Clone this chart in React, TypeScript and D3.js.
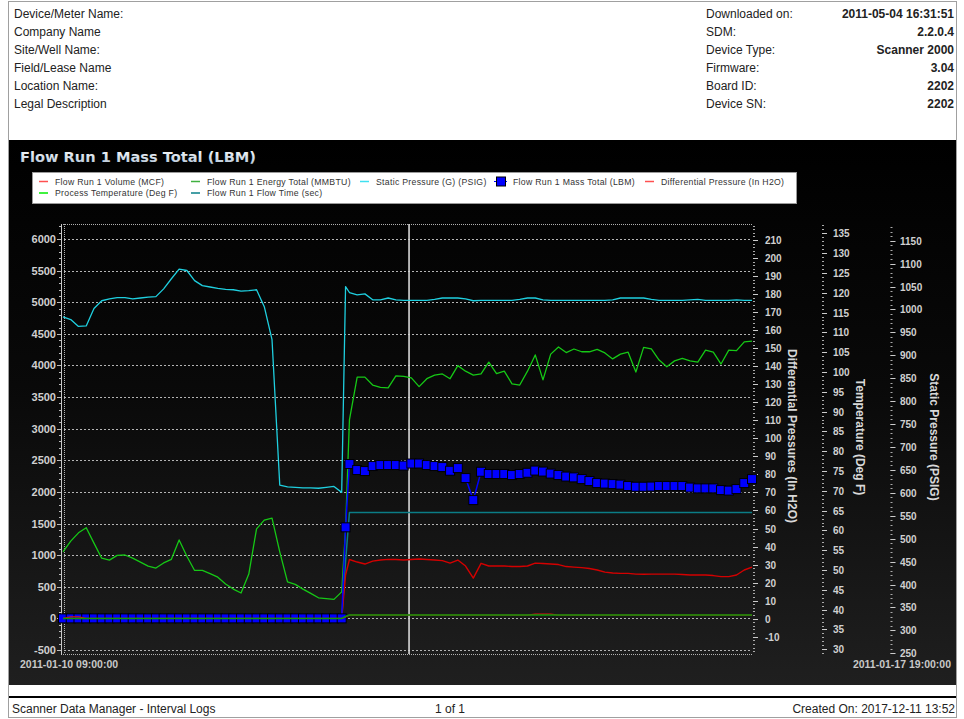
import React, { useEffect, useRef } from 'react';
import * as d3 from 'd3';

// hours after 2011-01-10 09:00 (two-hourly log, plus the hour of the flow start)
const hours = [...d3.range(0, 73, 2), 73, ...d3.range(74, 179, 2)];

const staticPressure = [
  984, 978, 963, 964, 1002, 1019, 1023, 1026, 1026, 1023,
  1025, 1027, 1028, 1045, 1067, 1088, 1085, 1063, 1052, 1049,
  1046, 1044, 1043, 1040, 1041, 1043, 1006, 934, 617, 613,
  612, 611, 611, 610, 612, 614, 601,
  1050,
  1037, 1032, 1034, 1021, 1021, 1025, 1021, 1020, 1020, 1020,
  1020, 1022, 1025, 1025, 1025, 1023, 1019, 1020, 1020, 1020,
  1020, 1020, 1022, 1025, 1025, 1021, 1020, 1020, 1020, 1020,
  1020, 1020, 1020, 1020, 1021, 1025, 1025, 1025, 1025, 1022,
  1020, 1020, 1020, 1020, 1021, 1022, 1020, 1020, 1020, 1020,
  1021, 1020, 1020,
];

const temperature = [
  54.6, 57.3, 59.4, 60.7, 56.8, 53.0, 52.5, 53.7, 53.8, 53.0,
  52.0, 51.0, 50.5, 51.8, 52.7, 57.6, 53.5, 49.9, 49.9, 49.1,
  48.2, 46.5, 45.2, 44.2, 49.0, 60.4, 62.6, 63.1, 54.6, 47.0,
  46.4, 45.2, 44.1, 43.0, 42.8, 42.6, 44.5,
  60.6,
  87.9, 98.7, 98.7, 96.7, 96.1, 96.0, 99.0, 98.9, 98.5, 96.3,
  98.3, 99.2, 99.5, 98.3, 101.6, 100.2, 99.2, 99.5, 102.5, 99.6,
  100.2, 97.0, 96.7, 100.2, 104.3, 98.0, 104.5, 106.3, 104.9, 105.8,
  105.1, 105.1, 105.7, 104.8, 103.3, 104.5, 105.0, 100.0, 106.2, 105.8,
  103.0, 101.3, 102.8, 103.4, 102.8, 102.5, 105.5, 105.0, 102.0, 105.5,
  105.4, 107.6, 107.8,
];

const massTotal = [
  0, 0, 0, 0, 0, 0, 0, 0, 0, 0,
  0, 0, 0, 0, 0, 0, 0, 0, 0, 0,
  0, 0, 0, 0, 0, 0, 0, 0, 0, 0,
  0, 0, 0, 0, 0, 0, 0,
  1440,
  2441, 2346, 2330, 2409, 2425, 2425, 2425, 2417, 2449, 2449,
  2425, 2409, 2393, 2335, 2377, 2219, 1871, 2319, 2283, 2283,
  2283, 2267, 2283, 2303, 2338, 2322, 2290, 2267, 2243, 2230,
  2203, 2172, 2140, 2132, 2124, 2116, 2093, 2082, 2082, 2085,
  2093, 2093, 2093, 2093, 2069, 2056, 2056, 2056, 2029, 2021,
  2045, 2140, 2203,
];

const diffPressure = [
  0, 0, 0, 0, 0, 0, 0, 0, 0, 0,
  0, 0, 0, 0, 0, 0, 0, 0, 0, 0,
  0, 0, 0, 0, 0, 0, 0, 0, 0, 0,
  0, 0, 0, 0, 0, 0, 0,
  24.2,
  32.8, 31.4, 30.3, 31.9, 32.5, 32.9, 32.8, 32.5, 32.8, 33.1,
  32.8, 32.5, 32.2, 30.8, 32.5, 29.2, 22.5, 30.7, 29.2, 29.2,
  29.2, 28.9, 28.9, 29.2, 30.8, 30.6, 30.3, 30.0, 28.9, 28.6,
  28.3, 27.8, 27.0, 25.8, 25.3, 25.1, 25.1, 24.7, 24.6, 24.7,
  24.7, 24.7, 24.7, 24.5, 24.2, 24.2, 24.2, 23.9, 23.3, 23.3,
  24.2, 27.0, 28.6,
];

const flowTime = [
  0, 0, 0, 0, 0, 0, 0, 0, 0, 0,
  0, 0, 0, 0, 0, 0, 0, 0, 0, 0,
  0, 0, 0, 0, 0, 0, 0, 0, 0, 0,
  0, 0, 0, 0, 0, 0, 0,
  900,
  1675, 1675, 1675, 1675, 1675, 1675, 1675, 1675, 1675, 1675,
  1675, 1675, 1675, 1675, 1675, 1675, 1675, 1675, 1675, 1675,
  1675, 1675, 1675, 1675, 1675, 1675, 1675, 1675, 1675, 1675,
  1675, 1675, 1675, 1675, 1675, 1675, 1675, 1675, 1675, 1675,
  1675, 1675, 1675, 1675, 1675, 1675, 1675, 1675, 1675, 1675,
  1675, 1675, 1675,
];

const energyTotal = [
  0, 0, 0, 0, 0, 0, 0, 0, 0, 0,
  0, 0, 0, 0, 0, 0, 0, 0, 0, 0,
  0, 0, 0, 0, 0, 0, 0, 0, 0, 0,
  0, 0, 0, 0, 0, 0, 0,
  30,
  55, 55, 55, 55, 55, 55, 55, 55, 55, 55,
  55, 55, 55, 55, 55, 55, 55, 55, 55, 55,
  55, 55, 55, 55, 55, 55, 55, 55, 55, 55,
  55, 55, 55, 55, 55, 55, 55, 55, 55, 55,
  55, 55, 55, 55, 55, 55, 55, 55, 55, 55,
  55, 55, 55,
];

const volume = [
  0, 25, 25, 0, 0, 0, 0, 0, 0, 0,
  0, 0, 0, 0, 0, 0, 0, 0, 0, 0,
  0, 0, 0, 0, 0, 0, 0, 0, 0, 0,
  0, 0, 0, 0, 0, 0, 0,
  25,
  50, 50, 50, 50, 50, 50, 50, 50, 50, 50,
  50, 50, 50, 50, 50, 50, 50, 50, 50, 50,
  50, 50, 50, 50, 68, 68, 68, 50, 50, 50,
  50, 50, 50, 50, 50, 50, 50, 50, 50, 50,
  50, 50, 50, 50, 50, 50, 50, 50, 50, 50,
  50, 50, 50,
];

const cursorHour = 89.4;
const startTime = new Date(2011, 0, 10, 9, 0, 0);
const endTime = new Date(2011, 0, 17, 19, 0, 0);

const headerLeft = ['Device/Meter Name:', 'Company Name', 'Site/Well Name:', 'Field/Lease Name', 'Location Name:', 'Legal Description'];
const headerRightLabels = ['Downloaded on:', 'SDM:', 'Device Type:', 'Firmware:', 'Board ID:', 'Device SN:'];
const headerRightValues = ['2011-05-04 16:31:51', '2.2.0.4', 'Scanner 2000', '3.04', '2202', '2202'];

const legendItems = [
  { name: 'Flow Run 1 Volume (MCF)', color: '#ff5050', x: 39, row: 0 },
  { name: 'Flow Run 1 Energy Total (MMBTU)', color: '#40b040', x: 191, row: 0 },
  { name: 'Static Pressure (G) (PSIG)', color: '#40e0f0', x: 360, row: 0 },
  { name: 'Flow Run 1 Mass Total (LBM)', color: '#0000ff', x: 496, row: 0, square: true },
  { name: 'Differential Pressure (In H2O)', color: '#ff5050', x: 645, row: 0 },
  { name: 'Process Temperature (Deg F)', color: '#00ee00', x: 39, row: 1 },
  { name: 'Flow Run 1 Flow Time (sec)', color: '#087f88', x: 191, row: 1 },
];

const FONT = "'Liberation Sans', Arial, sans-serif";

const App = () => {
  const svgRef = useRef<SVGSVGElement>(null);

  useEffect(() => {
    const svg = d3.select(svgRef.current);
    svg.selectAll('*').remove();

    const defs = svg.append('defs');
    const bg = defs.append('linearGradient').attr('id', 'panelBg')
      .attr('x1', 0).attr('y1', 0).attr('x2', 0).attr('y2', 1);
    bg.append('stop').attr('offset', '0%').attr('stop-color', '#000');
    bg.append('stop').attr('offset', '45%').attr('stop-color', '#090909');
    bg.append('stop').attr('offset', '100%').attr('stop-color', '#1f1f1f');
    const tg = defs.append('linearGradient').attr('id', 'titleFill')
      .attr('x1', 0).attr('y1', 0).attr('x2', 0).attr('y2', 1);
    tg.append('stop').attr('offset', '0%').attr('stop-color', '#ffffff');
    tg.append('stop').attr('offset', '100%').attr('stop-color', '#b4c4d6');

    // page frame + header
    svg.append('rect').attr('x', 8.5).attr('y', 1.5).attr('width', 948).attr('height', 716)
      .attr('fill', '#fff').attr('stroke', '#a0a0a0');

    const header = svg.append('g').style('font-family', FONT).style('font-size', '12px').attr('fill', '#222');
    headerLeft.forEach((t, i) => {
      header.append('text').attr('x', 14).attr('y', 17.8 + i * 18.1).text(t);
    });
    headerRightLabels.forEach((t, i) => {
      header.append('text').attr('x', 706).attr('y', 17.8 + i * 18.1).text(t);
    });
    headerRightValues.forEach((t, i) => {
      header.append('text').attr('x', 954).attr('y', 17.8 + i * 18.1)
        .attr('text-anchor', 'end').attr('font-weight', 'bold').text(t);
    });

    // chart panel
    svg.append('rect').attr('x', 9).attr('y', 140).attr('width', 947).attr('height', 545)
      .attr('fill', 'url(#panelBg)');

    svg.append('text').attr('x', 20).attr('y', 162)
      .style('font-family', "'DejaVu Sans', Verdana, sans-serif").style('font-size', '14.6px')
      .attr('font-weight', 'bold').attr('fill', 'url(#titleFill)')
      .text('Flow Run 1 Mass Total (LBM)');

    // legend
    const legend = svg.append('g');
    legend.append('rect').attr('x', 32.5).attr('y', 172.5).attr('width', 764).attr('height', 31)
      .attr('fill', '#fff').attr('stroke', '#9a9a9a');
    legendItems.forEach(d => {
      const cy = d.row === 0 ? 181.5 : 193;
      if (d.square) {
        legend.append('line').attr('x1', d.x - 2).attr('x2', d.x + 11).attr('y1', cy).attr('y2', cy)
          .attr('stroke', d.color).attr('stroke-width', 1);
        legend.append('rect').attr('x', d.x + 0.5).attr('y', cy - 4.5).attr('width', 9).attr('height', 9)
          .attr('fill', d.color).attr('stroke', '#000');
      } else {
        legend.append('line').attr('x1', d.x).attr('x2', d.x + 9).attr('y1', cy).attr('y2', cy)
          .attr('stroke', d.color).attr('stroke-width', 1.5);
      }
      legend.append('text').attr('x', d.x + (d.square ? 17 : 16)).attr('y', cy + 3.3)
        .style('font-family', FONT).style('font-size', '8.7px').style('letter-spacing', '0.3px')
        .attr('fill', '#333').text(d.name);
    });

    // scales
    const top = 224;
    const bottom = 654;
    const left = 63;
    const right = 752;
    const x = d3.scaleTime().domain([startTime, endTime]).range([left, right]);
    const yLeft = d3.scaleLinear().domain([-500, 6000]).range([650, 239]);
    const yDiff = d3.scaleLinear().domain([-10, 210]).range([636.7, 240]);
    const yTemp = d3.scaleLinear().domain([30, 135]).range([649.3, 233.3]);
    const yStat = d3.scaleLinear().domain([250, 1150]).range([653.3, 240.7]);
    const at = (h: number) => new Date(startTime.getTime() + h * 3600e3);
    const inPlot = (y: number) => y >= top - 0.5 && y <= bottom + 0.5;

    // grid
    const grid = svg.append('g');
    d3.range(-500, 6001, 500).forEach(v => {
      grid.append('line').attr('x1', left + 1).attr('x2', right)
        .attr('y1', Math.round(yLeft(v)) + 0.5).attr('y2', Math.round(yLeft(v)) + 0.5)
        .attr('stroke', '#b4b4b4').attr('stroke-dasharray', '2,2');
    });
    grid.append('line').attr('x1', left).attr('x2', right).attr('y1', top + 0.5).attr('y2', top + 0.5)
      .attr('stroke', '#b0b0b0').attr('stroke-dasharray', '1,1');
    grid.append('line').attr('x1', left).attr('x2', right).attr('y1', bottom + 0.5).attr('y2', bottom + 0.5)
      .attr('stroke', '#b0b0b0').attr('stroke-dasharray', '1,1');
    grid.append('line').attr('x1', left + 1.5).attr('x2', left + 1.5).attr('y1', top).attr('y2', bottom)
      .attr('stroke', '#b0b0b0').attr('stroke-dasharray', '1,1');

    // left axis
    const axL = svg.append('g');
    axL.append('line').attr('x1', 61.5).attr('x2', 61.5).attr('y1', top).attr('y2', bottom + 1)
      .attr('stroke', '#c8c8c8');
    d3.range(-500, 6201, 100).forEach(v => {
      const y = Math.round(yLeft(v)) + 0.5;
      if (!inPlot(y)) return;
      const major = v % 500 === 0;
      axL.append('line').attr('x1', major ? 57 : 59).attr('x2', 61).attr('y1', y).attr('y2', y)
        .attr('stroke', '#bbb');
      if (major) {
        axL.append('text').attr('x', 56).attr('y', y).attr('dy', '0.36em').attr('text-anchor', 'end')
          .style('font-family', FONT).style('font-size', '11px').attr('font-weight', 'bold')
          .attr('fill', '#d0d0d0').text(v);
      }
    });

    // right axes
    const rightAxis = (ax: number, scale: d3.ScaleLinear<number, number>, majors: number[], minors: number[], lx: number) => {
      const g = svg.append('g');
      minors.forEach(v => {
        const y = Math.round(scale(v)) + 0.5;
        if (!inPlot(y)) return;
        g.append('line').attr('x1', ax).attr('x2', ax + 2).attr('y1', y).attr('y2', y).attr('stroke', '#aaa');
      });
      majors.forEach(v => {
        const y = Math.round(scale(v)) + 0.5;
        g.append('line').attr('x1', ax).attr('x2', ax + 5).attr('y1', y).attr('y2', y).attr('stroke', '#ccc');
        g.append('text').attr('x', lx).attr('y', y).attr('dy', '0.36em')
          .style('font-family', FONT).style('font-size', '10px').attr('font-weight', 'bold')
          .attr('fill', '#d0d0d0').text(v);
      });
    };
    rightAxis(753, yDiff, d3.range(-10, 211, 10), d3.range(-20, 222, 2), 765);
    rightAxis(822, yTemp, d3.range(30, 136, 5), d3.range(28, 139, 1), 833);
    rightAxis(890.5, yStat, d3.range(250, 1151, 50), d3.range(240, 1200, 10), 900);

    const axisTitle = (cx: number, cy: number, t: string) => {
      svg.append('text').attr('transform', `translate(${cx},${cy}) rotate(90)`)
        .attr('text-anchor', 'middle').attr('dy', '0.36em')
        .style('font-family', FONT).style('font-size', '12px').attr('font-weight', 'bold')
        .attr('fill', '#d8d8d8').text(t);
    };
    axisTitle(792, 436, 'Differential Pressures (In H2O)');
    axisTitle(860, 437, 'Temperature (Deg F)');
    axisTitle(934, 437, 'Static Pressure (PSIG)');

    // time labels
    const fmt = d3.timeFormat('%Y-%m-%d %H:%M:%S');
    const xl = svg.append('g').style('font-family', FONT).style('font-size', '10.5px')
      .attr('font-weight', 'bold').attr('fill', '#c8c8c8');
    xl.append('text').attr('x', 20).attr('y', 668).text(fmt(startTime));
    xl.append('text').attr('x', 951).attr('y', 668).attr('text-anchor', 'end').text(fmt(endTime));

    // cursor line
    svg.append('line').attr('x1', x(at(cursorHour))).attr('x2', x(at(cursorHour)))
      .attr('y1', top).attr('y2', bottom).attr('stroke', '#d8d8d8').attr('stroke-width', 1.6);

    // series
    const path = (vals: number[], scale: d3.ScaleLinear<number, number>, color: string, w = 1.3) => {
      const line = d3.line<number>()
        .x((_, i) => x(at(hours[i])))
        .y(d => scale(d));
      svg.append('path').attr('d', line(vals)).attr('fill', 'none')
        .attr('stroke', color).attr('stroke-width', w).attr('stroke-linejoin', 'round');
    };

    path(flowTime, yLeft, '#0b7d86', 1.5);
    path(staticPressure, yStat, '#1fcfdf', 1.3);
    path(temperature, yTemp, '#16c816', 1.3);
    path(diffPressure, yDiff, '#d40000', 1.4);
    path(massTotal, yLeft, '#0000ff', 1.5);
    svg.append('g').selectAll('rect').data(massTotal).enter().append('rect')
      .attr('x', (_, i) => x(at(hours[i])) - 4.5)
      .attr('y', d => yLeft(d) - 4.5)
      .attr('width', 9).attr('height', 9)
      .attr('fill', '#0000ff').attr('stroke', '#000').attr('stroke-width', 1);
    path(volume, yLeft, '#e01010', 1.3);
    path(energyTotal, yLeft, '#0a9a0a', 1.5);

    // footer
    svg.append('rect').attr('x', 9).attr('y', 696).attr('width', 947).attr('height', 2).attr('fill', '#000');
    const foot = svg.append('g').style('font-family', FONT).style('font-size', '12px').attr('fill', '#222');
    foot.append('text').attr('x', 12).attr('y', 713).text('Scanner Data Manager - Interval Logs');
    foot.append('text').attr('x', 450).attr('y', 713).attr('text-anchor', 'middle').text('1 of 1');
    foot.append('text').attr('x', 955).attr('y', 713).attr('text-anchor', 'end').text('Created On: 2017-12-11 13:52');
  }, []);

  return (
    <svg
      ref={svgRef}
      width={964}
      height={719}
      style={{ position: 'absolute', left: 0, top: 0, background: '#fff' }}
    />
  );
};

export default App;
